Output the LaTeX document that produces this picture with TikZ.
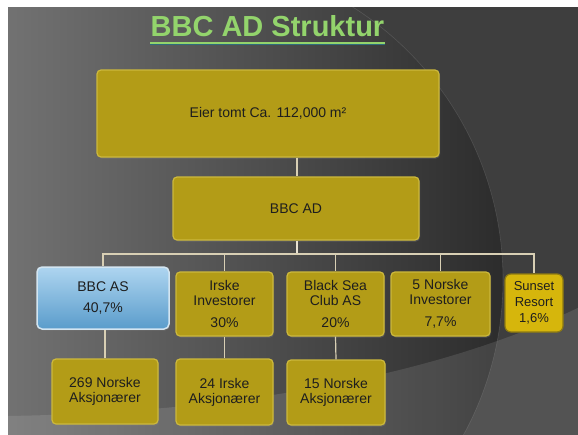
\documentclass[tikz,border=0pt]{standalone}
\usepackage{fontspec}
\setmainfont{Liberation Sans}
\usetikzlibrary{shadows}

\definecolor{boxgold}{HTML}{B39C17}
\definecolor{boxrim}{HTML}{CDB93C}
\definecolor{sungold}{HTML}{D6B60C}
\definecolor{sunrim}{HTML}{8E7B12}
\definecolor{bluetop}{HTML}{AED5F0}
\definecolor{bluebot}{HTML}{5A9CCB}
\definecolor{bluerim}{HTML}{D3E5F1}
\definecolor{linkcol}{HTML}{D8CFB4}
\definecolor{titlegreen}{HTML}{93D46C}
\definecolor{titleshade}{HTML}{2E6B7C}
\definecolor{slidedark}{HTML}{3E3E3E}
\definecolor{bgleft}{HTML}{878787}
\definecolor{bgright}{HTML}{2C2C2C}
\definecolor{inktext}{HTML}{1E1E1E}

\begin{document}
\begin{tikzpicture}[x=1pt, y=-1pt,
    every node/.style={font=\fontsize{14}{15}\selectfont, text=inktext, align=center, inner sep=0pt},
    goldbox/.style={draw=boxrim, fill=boxgold, line width=1.2pt, rounded corners=4pt,
        drop shadow={opacity=0.35, shadow xshift=1pt, shadow yshift=-1.5pt}},
    bluebox/.style={draw=bluerim, top color=bluetop, bottom color=bluebot, line width=1.5pt, rounded corners=5pt,
        drop shadow={opacity=0.35, shadow xshift=1pt, shadow yshift=-1.5pt}},
    sunbox/.style={draw=sunrim, fill=sungold, line width=1.2pt, rounded corners=6pt},
    link/.style={draw=linkcol, line width=1.2pt},
    trunk/.style={draw=linkcol!60!white, line width=2.5pt}]
    \useasboundingbox (0,0) rectangle (578,434);

    % slide background
    \fill[slidedark] (0,0) rectangle (590,445);
    \fill[white] (-5,-5) rectangle (590,7);
    \fill[white] (-5,-5) rectangle (8,445);
    \begin{scope}
        \clip (8,7) rectangle (590,445);
        \shade[left color=bgleft, right color=bgright] (180,280) circle (323pt);
        \draw[white, opacity=0.12, line width=0.6pt] (180,280) circle (323pt);
        \fill[white, opacity=0.11] (8,416) .. controls (250,412) and (450,372) .. (590,302) -- (590,445) -- (8,445) -- cycle;
    \end{scope}

    % title
    \node[font=\fontsize{29}{32}\selectfont\bfseries, text=titlegreen, anchor=base] (title) at (267.5,36) {BBC AD Struktur};
    \draw[titleshade, line width=1.4pt] ([yshift=-8.5pt]title.base west) -- ([yshift=-8.5pt]title.base east);
    \draw[titlegreen, line width=1.6pt] ([yshift=-7pt]title.base west) -- ([yshift=-7pt]title.base east);

    % boxes
    \node[goldbox, minimum width=342pt, minimum height=87pt] (land) at (268,113.5) {Eier tomt Ca. 112,000 m²};
    \node[goldbox, minimum width=246pt, minimum height=63pt] (bbcad) at (296,208.5) {BBC AD};

    \node[bluebox, minimum width=132pt, minimum height=62pt] (bbcas) at (103,298) {BBC AS\\[6pt]40,7\%};
    \node[goldbox, minimum width=97pt, minimum height=64pt] (irske) at (224.5,304) {Irske\\Investorer\\[7pt]30\%};
    \node[goldbox, minimum width=97pt, minimum height=64pt] (blacksea) at (335.5,304) {Black Sea\\Club AS\\[7pt]20\%};
    \node[goldbox, minimum width=99pt, minimum height=64pt] (norske) at (440.5,304) {5 Norske\\Investorer\\[7pt]7,7\%};
    \node[sunbox, minimum size=58pt, font=\fontsize{13}{16}\selectfont] (sunset) at (534,303) {Sunset\\Resort\\1,6\%};

    \node[goldbox, minimum width=106pt, minimum height=65pt] (aks269) at (105,391.5) {269 Norske\\Aksjonærer};
    \node[goldbox, minimum width=97pt, minimum height=66pt] (aks24) at (224.5,392) {24 Irske\\Aksjonærer};
    \node[goldbox, minimum width=98pt, minimum height=65pt] (aks15) at (336,392.5) {15 Norske\\Aksjonærer};

    % connectors
    \coordinate (fork) at (297,254);
    \draw[link] (land.south -| fork) -- (bbcad.north -| fork);
    \draw[trunk] (bbcad.south -| fork) -- (fork);
    \draw[link] (fork) -| (bbcas.north);
    \draw[link] (fork) -| (irske.north);
    \draw[link] (fork) -| (blacksea.north);
    \draw[link] (fork) -| (norske.north);
    \draw[link] (fork) -| (sunset.north);
    \draw[link] (aks269.north) -- (aks269.north |- bbcas.south);
    \draw[link] (irske.south) -- (aks24.north);
    \draw[link] (blacksea.south) -- (aks15.north);
\end{tikzpicture}
\end{document}
